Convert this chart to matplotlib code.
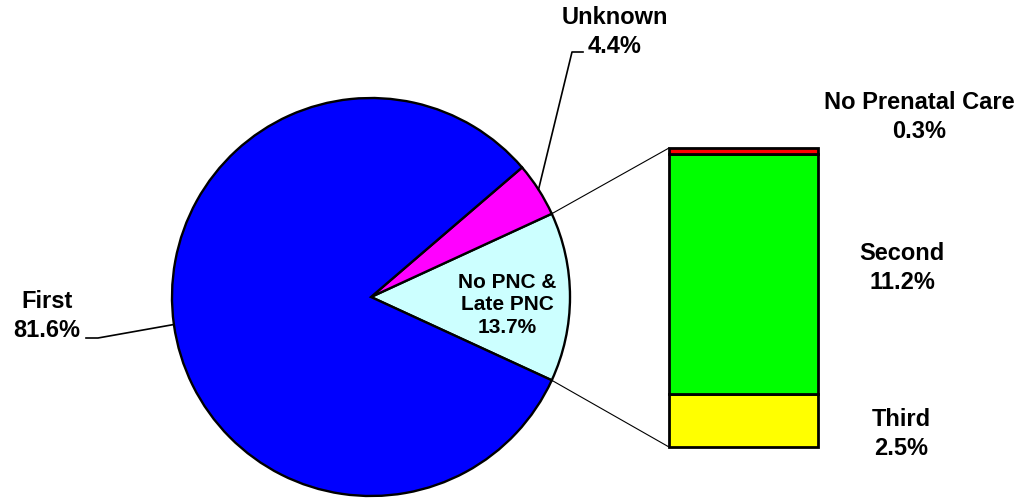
"""Pie of trimester prenatal care began, with the late/no care slice broken out into a stacked bar."""

import numpy as np
import matplotlib

matplotlib.use("Agg")
from matplotlib import pyplot as plt
from matplotlib.lines import Line2D
from matplotlib.patches import ConnectionPatch

# pie slices, counter-clockwise from the broken-out slice
pie_labels = ["No PNC &\nLate PNC", "Unknown", "First"]
pie_values = [13.7, 4.4, 81.6]
pie_colors = ["#CCFFFF", "#FF00FF", "#0000FF"]

# stacked bar, bottom to top
bar_labels = ["Third", "Second", "No Prenatal Care"]
bar_values = [2.5, 11.2, 0.3]
bar_colors = ["#FFFF00", "#00FF00", "#FF0000"]

W, H = 1017, 498
FONT = ["Liberation Sans", "DejaVu Sans"]


def fx(px: float) -> float:
    return px / W


def fy(py: float) -> float:
    return 1 - py / H


def main() -> None:
    plt.rcParams["font.family"] = FONT
    fig = plt.figure(figsize=(W / 100, H / 100), dpi=100)

    # pie: centre (371, 297) px, radius 199 px
    cx, cy, r = 371, 297, 199
    ax_pie = fig.add_axes([fx(cx - r), fy(cy + r), 2 * r / W, 2 * r / H])
    frac = np.array(pie_values) / sum(pie_values)
    start = -frac[0] * 180
    wedges, _ = ax_pie.pie(
        pie_values,
        colors=pie_colors,
        startangle=start,
        counterclock=True,
        radius=1,
        wedgeprops={"edgecolor": "black", "linewidth": 1.7},
    )
    ax_pie.set_xlim(-1, 1)
    ax_pie.set_ylim(-1, 1)
    ax_pie.set_aspect("auto")
    ax_pie.axis("off")
    for w in wedges:
        w.set_clip_on(False)

    # stacked bar: x 669..818 px, y 148..447 px
    ax_bar = fig.add_axes([fx(669), fy(447), 149 / W, 299 / H])
    bottom = 0.0
    for val, col in zip(bar_values, bar_colors):
        ax_bar.bar(0, val, width=1, bottom=bottom, color=col, edgecolor="black", linewidth=2.0, clip_on=False)
        bottom += val
    ax_bar.set_xlim(-0.5, 0.5)
    ax_bar.set_ylim(0, sum(bar_values))
    ax_bar.axis("off")

    # connector lines from the broken-out wedge to the bar
    half = np.deg2rad(frac[0] * 180)
    for sign, ybar in ((1, sum(bar_values)), (-1, 0)):
        con = ConnectionPatch(
            xyA=(np.cos(half), sign * np.sin(half)),
            coordsA=ax_pie.transData,
            xyB=(-0.5, ybar),
            coordsB=ax_bar.transData,
            color="black",
            linewidth=0.8,
        )
        fig.add_artist(con)

    # leader lines from wedge mid-angles
    def wedge_point(i: int) -> tuple[float, float]:
        a = np.deg2rad((wedges[i].theta1 + wedges[i].theta2) / 2)
        disp = ax_pie.transData.transform((np.cos(a), np.sin(a)))
        return tuple(fig.transFigure.inverted().transform(disp))

    x0, y0 = wedge_point(1)
    fig.add_artist(Line2D([x0, fx(572), fx(583)], [y0, fy(52), fy(52)], color="black", linewidth=1.2))
    x0, y0 = wedge_point(2)
    fig.add_artist(Line2D([x0, fx(98), fx(86)], [y0, fy(338), fy(338)], color="black", linewidth=1.2))

    big = dict(fontsize=17, fontweight="bold", ha="center", va="center", linespacing=1.3)
    fig.text(fx(615), fy(32), f"{pie_labels[1]}\n{pie_values[1]:.1f}%", **big)
    fig.text(fx(47), fy(316), f"{pie_labels[2]}\n{pie_values[2]:.1f}%", **big)
    fig.text(fx(507), fy(305), f"{pie_labels[0]}\n{pie_values[0]:.1f}%",
             fontsize=15, fontweight="bold", ha="center", va="center", linespacing=1.22)
    fig.text(fx(919), fy(117), f"{bar_labels[2]}\n{bar_values[2]:.1f}%", **big)
    fig.text(fx(902), fy(268), f"{bar_labels[1]}\n{bar_values[1]:.1f}%", **big)
    fig.text(fx(901), fy(434), f"{bar_labels[0]}\n{bar_values[0]:.1f}%", **big)

    fig.savefig("out.png", dpi=100)


if __name__ == "__main__":
    main()
